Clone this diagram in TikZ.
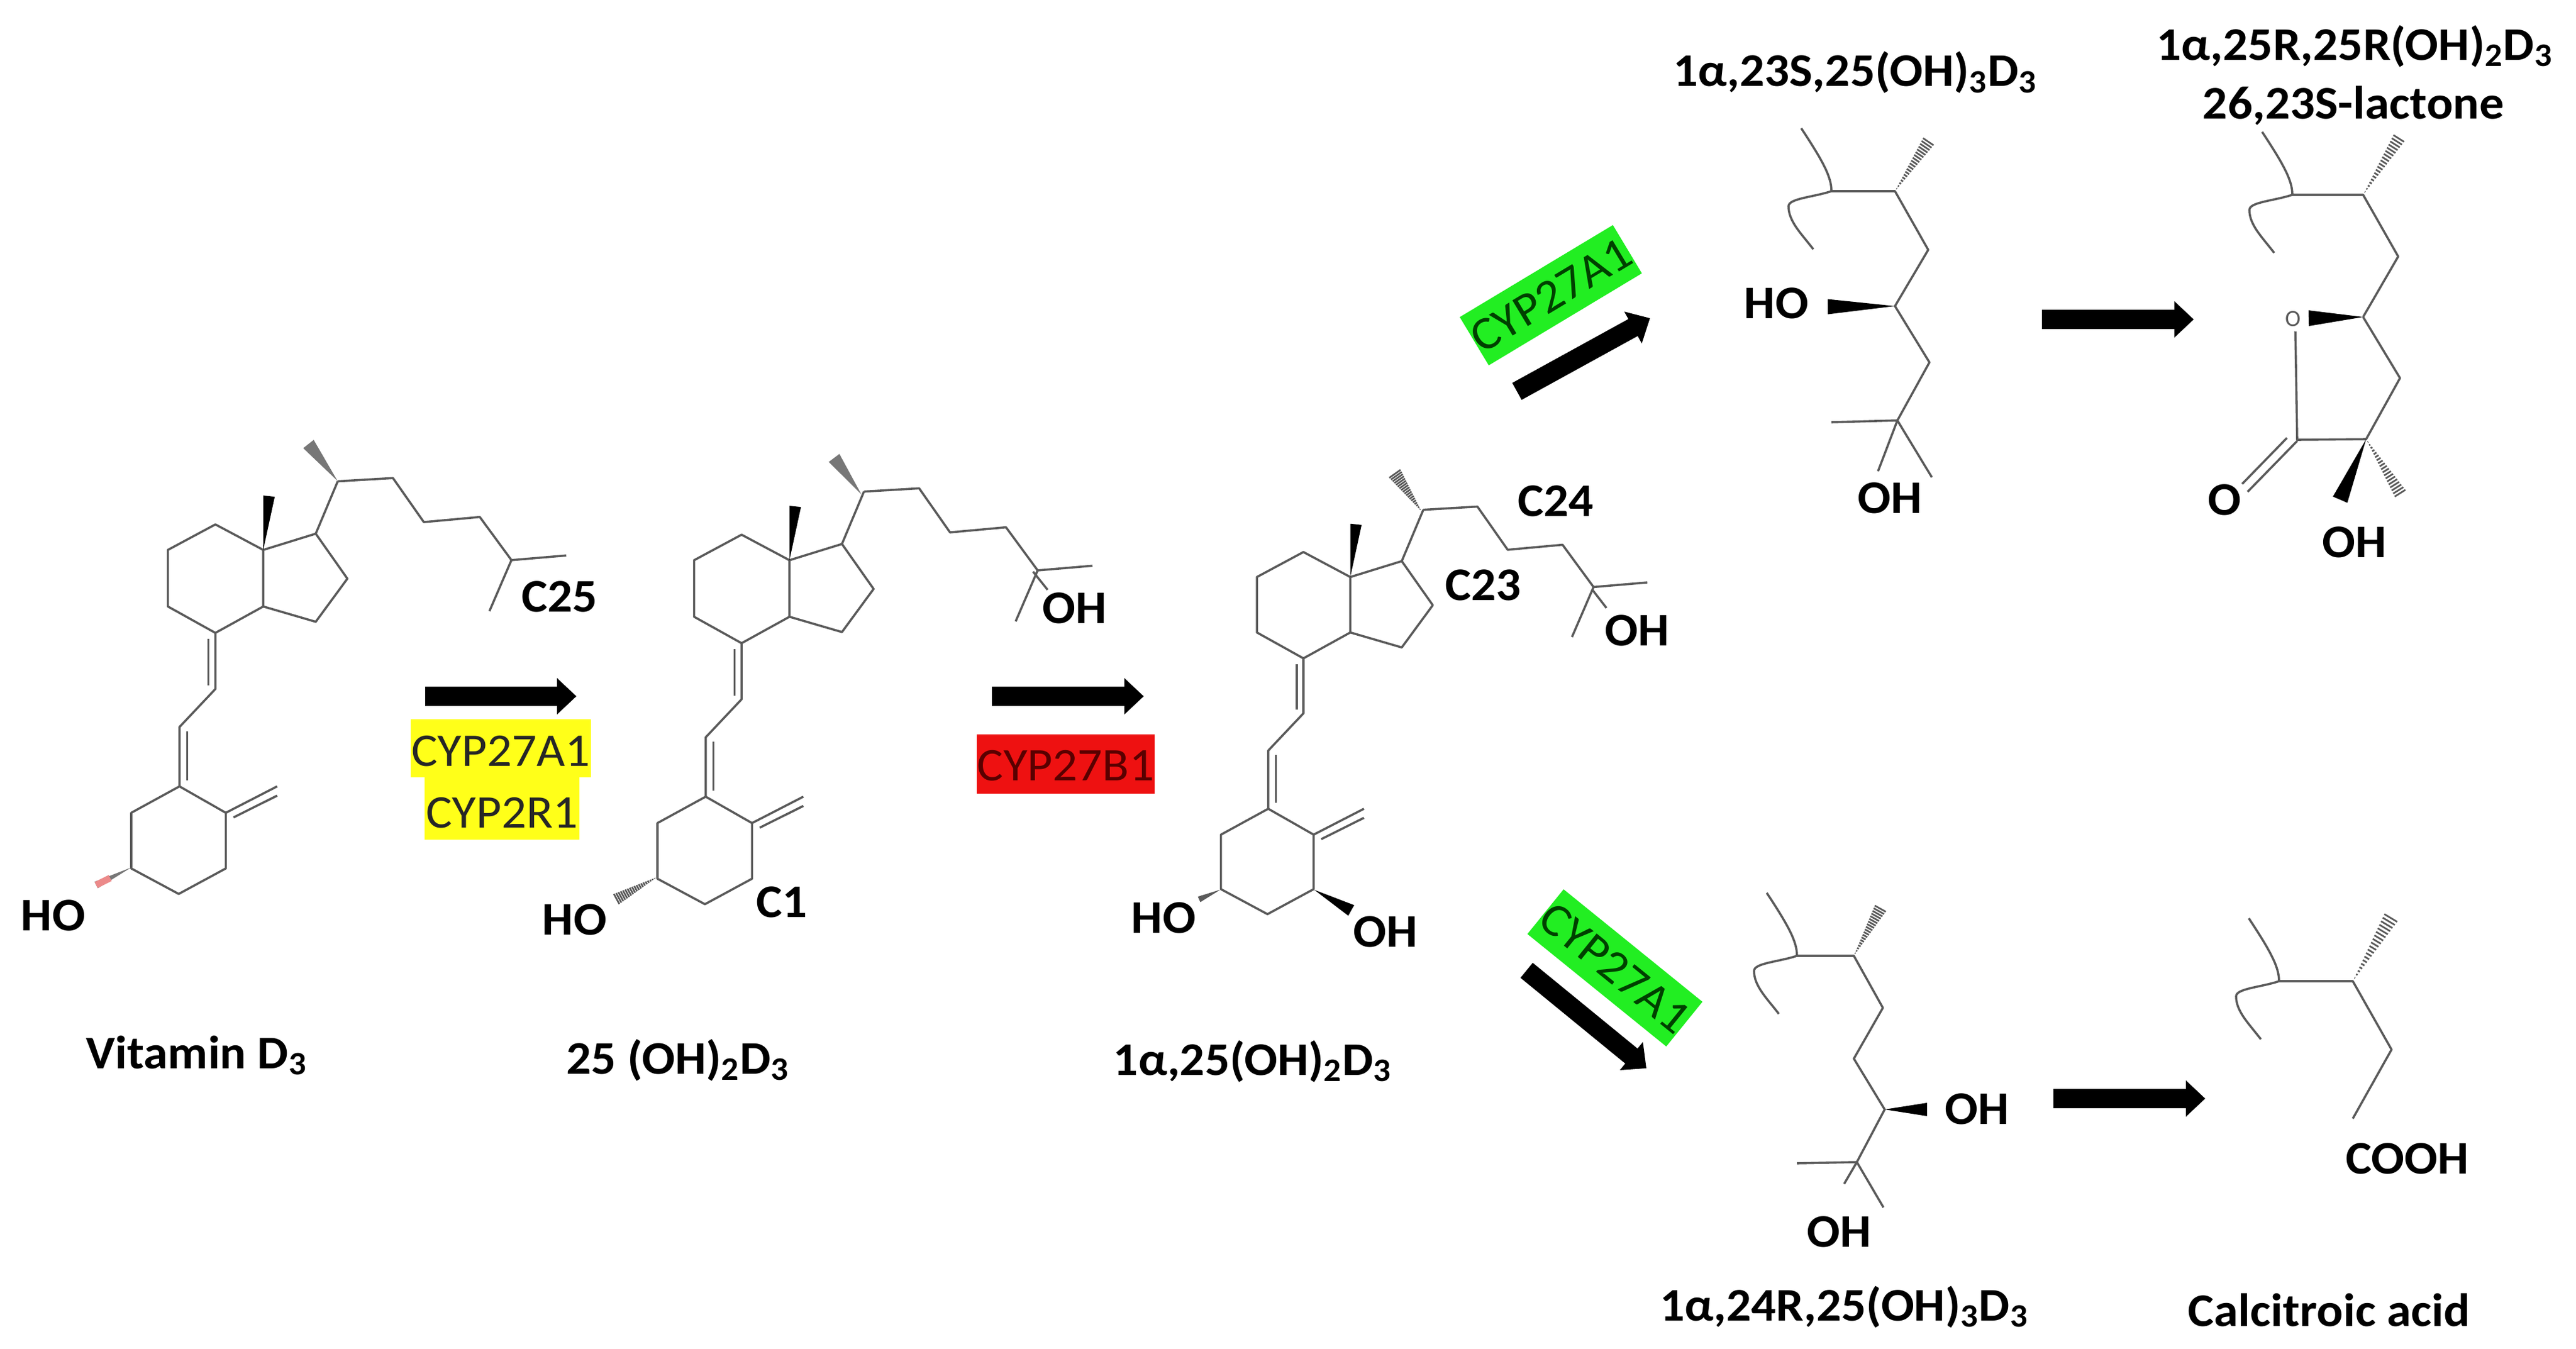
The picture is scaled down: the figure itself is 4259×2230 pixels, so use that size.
\documentclass[tikz,border=0pt]{standalone}
\usepackage{fontspec}
\setmainfont{Carlito}
\newfontfamily\labfam[FakeStretch=1.05]{Carlito}
\newfontfamily\enzfam[FakeStretch=1.05]{Carlito}
\usetikzlibrary{calc,arrows.meta}
\definecolor{bondgray}{HTML}{5A5A5A}
\definecolor{hashgray}{HTML}{777777}
\definecolor{enzyellow}{HTML}{FFFF19}
\definecolor{enzred}{HTML}{EE1111}
\definecolor{enzgreen}{HTML}{22EE22}
\newcommand\labfont{\labfam\fontsize{22pt}{26pt}\selectfont\bfseries}
\newcommand\enzfont{\enzfam\fontsize{22pt}{26pt}\selectfont}
\tikzset{
  bond/.style={draw=bondgray,line width=0.036cm,line join=round},
  hash/.style={draw=bondgray,line width=0.028cm},
  lab/.style={anchor=base,font=\labfont,inner sep=0pt},
  enzyme/.style={font=\enzfont,inner sep=0pt,text=black!85},
  bigarrow/.style={line width=0.32cm,-{Triangle[length=0.32cm,width=0.58cm]}},
}
\newcommand\wedgebond[4][black]{\fill[#1] (#2) -- ($(#3)!#4!90:(#2)$) -- ($(#3)!#4!-90:(#2)$) -- cycle;}
\newcommand\hashbond[3]{\foreach \t in {0.05,0.1,...,1.0}{\draw[hash] ($(#1)!\t!($(#2)!#3!90:(#1)$)$) -- ($(#1)!\t!($(#2)!#3!-90:(#1)$)$);}}
\newcommand\secosteroid[3]{%
  \begin{scope}[shift={(#1,#2)},scale=#3,x=0.006378cm,y=-0.007653cm]
    \draw[bond] (875,190) -- (1018,183) -- (1098,278) -- (1243,267) -- (1325,360) -- (1467,350);
    \draw[bond] (1325,360) -- (1268,470);
    \draw[bond] (875,190) -- (818,303);
    \draw[bond] (818,303) -- (900,400) -- (818,493) -- (682,460) -- (682,338) -- cycle;
    \draw[bond] (682,338) -- (558,283) -- (435,338) -- (435,460) -- (558,517) -- (682,460);
    \draw[bond] (558,517) -- (558,638) -- (465,720) -- (465,848);
    \draw[bond] (540,530) -- (540,630);
    \draw[bond] (485,730) -- (485,835);
    \draw[bond] (465,848) -- (585,905) -- (585,1025) -- (463,1080) -- (340,1025) -- (340,905) -- cycle;
    \draw[bond] (585,905) -- (718,848);
    \draw[bond] (605,915) -- (718,868);
    \wedgebond{682,338}{697,222}{0.095cm}
  \end{scope}}
\newcommand\wavyend[2]{%
  \begin{scope}[shift={(#1,#2)}]
    \draw[bond] (0,0) .. controls (0,-23) and (-13,-48) .. (-50,-104);
    \draw[bond] (0,0) .. controls (-30,10) and (-71,12) .. (-71,25) .. controls (-71,50) and (-50,70) .. (-30,96);
  \end{scope}}
\begin{document}
\begin{tikzpicture}[x=0.01cm,y=-0.01cm]
  \useasboundingbox (0,0) rectangle (4259,2230);

  \secosteroid{0}{650}{1}
  \wedgebond[hashgray]{558,795}{510,734}{0.11cm}
  \wedgebond[hashgray]{217,1434}{159,1463}{0.06cm}
  \draw[line width=0.11cm,color=red!45!white!85!gray] ($(217,1434)!0.6!(159,1463)$) -- (159,1463);
  \node[lab] (ho1) at (88,1538) {HO};
  \node[lab] (c25) at (925,1011) {C25};
  \node[lab] (vitd) at (325,1766) {Vitamin D\textsubscript{3}};

  \coordinate (a1s) at (703,1151);
  \coordinate (a1e) at (953,1151);
  \draw[bigarrow] (a1s) -- (a1e);
  \node[enzyme,fill=enzyellow,minimum width=2.98cm,minimum height=0.95cm,text height=0.6cm] (enz1) at (828,1237) {CYP27A1};
  \node[enzyme,fill=enzyellow,minimum width=2.55cm,minimum height=1.03cm,text height=0.66cm] (enz2) at (830,1336) {CYP2R1};

  \secosteroid{870}{667}{1}
  \wedgebond[hashgray]{1424,817}{1379,757}{0.11cm}
  \hashbond{1086,1450}{1016,1488}{0.10cm}
  \draw[bond] (1708,945) -- (1732,975);
  \node[lab] (ho2) at (950,1545) {HO};
  \node[lab] (c1) at (1293,1516) {C1};
  \node[lab] (oh2) at (1777,1030) {OH};
  \node[lab] (d25) at (1121,1775) {25 (OH)\textsubscript{2}D\textsubscript{3}};

  \coordinate (a2s) at (1640,1151);
  \coordinate (a2e) at (1891,1151);
  \draw[bigarrow] (a2s) -- (a2e);
  \node[enzyme,fill=enzred,text=red!35!black,minimum width=2.94cm,minimum height=0.98cm,text height=0.56cm] (enz3) at (1762,1263) {CYP27B1};

  \secosteroid{1806}{700}{0.98}
  \hashbond{2350,845}{2304,780}{0.12cm}
  \hashbond{2017,1471}{1982,1487}{0.05cm}
  \wedgebond{2173,1471}{2234,1505}{0.10cm}
  \draw[bond] (2632,974) -- (2656,1005);
  \node[lab] (c24) at (2572,853) {C24};
  \node[lab] (c23) at (2452,992) {C23};
  \node[lab] (oh3) at (2707,1067) {OH};
  \node[lab] (ho3) at (1924,1542) {HO};
  \node[lab] (oh4) at (2291,1565) {OH};
  \node[lab] (d125) at (2071,1777) {1α,25(OH)\textsubscript{2}D\textsubscript{3}};

  \node[enzyme,fill=enzgreen,text=green!25!black,rotate=31,minimum width=2.94cm,minimum height=0.93cm] (enz4) at (2564,488) {CYP27A1};
  \coordinate (a3s) at (2508,647);
  \coordinate (a3e) at (2728,526);
  \draw[bigarrow] (a3s) -- (a3e);

  \wavyend{3028}{316}
  \draw[bond] (3028,316) -- (3133,316) -- (3188,413) -- (3133,506) -- (3190,599) -- (3137,695) -- (3028,698);
  \draw[bond] (3105,779) -- (3137,695) -- (3194,789);
  \hashbond{3133,316}{3191,230}{0.11cm}
  \wedgebond{3133,506}{3022,507}{0.125cm}
  \node[lab] (ho5) at (2937,526) {HO};
  \node[lab] (oh5) at (3125,848) {OH};
  \node[lab] (d123) at (3067,143) {1α,23S,25(OH)\textsubscript{3}D\textsubscript{3}};

  \coordinate (a4s) at (3376,528);
  \coordinate (a4e) at (3627,528);
  \draw[bigarrow] (a4s) -- (a4e);

  \wavyend{3790}{322}
  \draw[bond] (3790,322) -- (3907,322) -- (3965,424) -- (3907,524);
  \draw[bond] (3907,524) -- (3968,625) -- (3912,726) -- (3798,727) -- (3795,548);
  \draw[bond] (3781,724) -- (3707,800);
  \draw[bond] (3798,729) -- (3716,813);
  \hashbond{3907,322}{3969,224}{0.11cm}
  \wedgebond{3907,524}{3817,526}{0.13cm}
  \wedgebond{3912,726}{3869,826}{0.13cm}
  \hashbond{3912,726}{3971,820}{0.11cm}
  \node[font=\fontsize{11pt}{13pt}\selectfont,text=bondgray,inner sep=0pt] (ring5) at (3791,527) {O};
  \node[lab] (o6) at (3678,851) {O};
  \node[lab] (oh6) at (3893,921) {OH};
  \node[lab] (lac1) at (3893,99) {1α,25R,25R(OH)\textsubscript{2}D\textsubscript{3}};
  \node[lab] (lac2) at (3891,196) {26,23S-lactone};

  \node[enzyme,fill=enzgreen,text=green!25!black,rotate=-39,minimum width=2.93cm,minimum height=0.95cm] (enz5) at (2670,1600) {CYP27A1};
  \coordinate (a5s) at (2524,1604);
  \coordinate (a5e) at (2722,1766);
  \draw[bigarrow] (a5s) -- (a5e);

  \wavyend{2971}{1580}
  \draw[bond] (2971,1580) -- (3065,1580) -- (3113,1666) -- (3065,1750) -- (3116,1834) -- (3070,1921) -- (2971,1923);
  \draw[bond] (3049,1957) -- (3070,1921) -- (3114,1996);
  \hashbond{3065,1580}{3111,1498}{0.11cm}
  \wedgebond{3116,1834}{3186,1834}{0.11cm}
  \node[lab] (oh7) at (3269,1858) {OH};
  \node[lab] (oh8) at (3041,2061) {OH};
  \node[lab] (d124) at (3049,2183) {1α,24R,25(OH)\textsubscript{3}D\textsubscript{3}};

  \coordinate (a6s) at (3395,1816);
  \coordinate (a6e) at (3646,1816);
  \draw[bigarrow] (a6s) -- (a6e);

  \wavyend{3768}{1622}
  \draw[bond] (3768,1622) -- (3890,1622) -- (3954,1735) -- (3890,1849);
  \hashbond{3890,1622}{3956,1512}{0.13cm}
  \node[lab] (cooh) at (3980,1940) {COOH};
  \node[lab] (calc) at (3851,2192) {Calcitroic acid};
\end{tikzpicture}
\end{document}
